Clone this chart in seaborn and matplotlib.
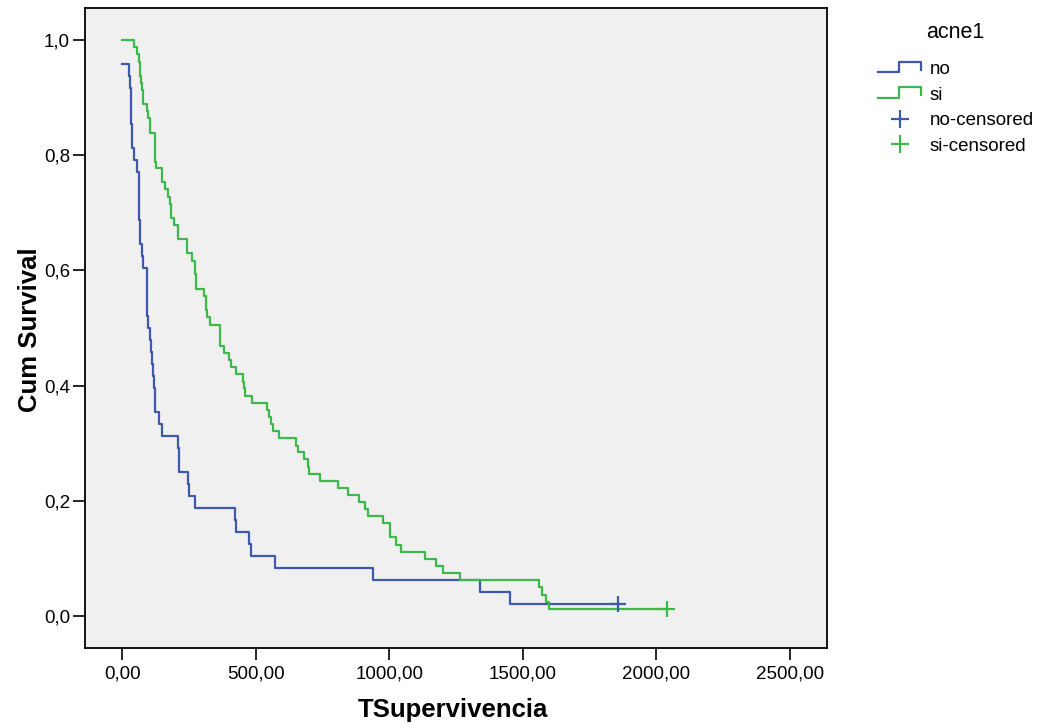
import matplotlib
matplotlib.use("Agg")
import matplotlib.pyplot as plt
from matplotlib.lines import Line2D
from matplotlib.legend_handler import HandlerBase
import seaborn as sns
import pandas as pd

# ---- data (Kaplan-Meier steps) ----
no_time = [0, 25, 27, 31, 32, 36, 45, 53, 61, 64, 66, 74, 76, 91, 97, 102, 107, 111,
           114, 117, 121, 137, 150, 207, 211, 246, 251, 271, 423, 426, 474, 483, 573,
           937, 1339, 1451, 1857]
no_surv = [0.958, 0.938, 0.917, 0.896, 0.854, 0.813, 0.792, 0.771, 0.688, 0.667, 0.646,
           0.625, 0.604, 0.521, 0.500, 0.479, 0.458, 0.438, 0.417, 0.396, 0.354, 0.333,
           0.313, 0.292, 0.250, 0.229, 0.208, 0.188, 0.167, 0.146, 0.125, 0.104, 0.083,
           0.063, 0.042, 0.021, 0.021]

si_time = [0, 45, 55, 61, 64, 70, 74, 76, 92, 96, 105, 121, 124, 150, 160, 172, 177, 182,
           192, 208, 241, 262, 271, 276, 306, 313, 317, 329, 367, 379, 400, 408, 427, 450,
           455, 460, 485, 542, 548, 557, 564, 587, 651, 658, 681, 695, 700, 741, 806, 846,
           886, 910, 920, 977, 1001, 1024, 1044, 1133, 1175, 1200, 1265, 1562, 1571, 1586,
           1598, 2041]
si_surv = [1.000, 0.988, 0.976, 0.962, 0.938, 0.926, 0.913, 0.889, 0.877, 0.864, 0.839,
           0.788, 0.778, 0.753, 0.741, 0.728, 0.715, 0.691, 0.679, 0.654, 0.630, 0.617,
           0.593, 0.568, 0.556, 0.531, 0.519, 0.506, 0.469, 0.457, 0.444, 0.432, 0.420,
           0.407, 0.395, 0.382, 0.370, 0.358, 0.346, 0.333, 0.321, 0.309, 0.296, 0.284,
           0.272, 0.259, 0.247, 0.235, 0.223, 0.210, 0.198, 0.186, 0.173, 0.161, 0.137,
           0.124, 0.112, 0.099, 0.087, 0.075, 0.062, 0.050, 0.037, 0.025, 0.013, 0.013]

censor_group = ["no", "si"]
censor_time = [1857, 2041]
censor_surv = [0.021, 0.013]

group_names = ["no", "si"]
colors = {"no": "#3E58AC", "si": "#3DB84A"}

x_ticks = [0, 500, 1000, 1500, 2000, 2500]
x_tick_labels = ["0,00", "500,00", "1000,00", "1500,00", "2000,00", "2500,00"]
y_ticks = [0.0, 0.2, 0.4, 0.6, 0.8, 1.0]
y_tick_labels = ["0,0", "0,2", "0,4", "0,6", "0,8", "1,0"]

# ---- build tables ----
curves = pd.concat([
    pd.DataFrame({"time": no_time, "surv": no_surv, "acne1": "no"}),
    pd.DataFrame({"time": si_time, "surv": si_surv, "acne1": "si"}),
], ignore_index=True)
cens = pd.DataFrame({"time": censor_time, "surv": censor_surv, "acne1": censor_group})

plt.rcParams["font.family"] = ["Liberation Sans", "DejaVu Sans"]

fig = plt.figure(figsize=(10.41, 7.28), dpi=100)
ax = fig.add_axes([85.3 / 1041, 1 - 647.7 / 728, (827.3 - 85.3) / 1041, (647.7 - 8.3) / 728])
ax.set_facecolor("#F0F0F0")

for g in group_names:
    sub = curves[curves["acne1"] == g]
    sns.lineplot(data=sub, x="time", y="surv", color=colors[g], drawstyle="steps-post",
                 estimator=None, sort=False, lw=1.6, ax=ax, legend=False)
    csub = cens[cens["acne1"] == g]
    sns.scatterplot(data=csub, x="time", y="surv", color=colors[g], marker="+", s=140,
                    linewidth=1.6, ax=ax, legend=False, zorder=4)

ax.set_xlim(-139, 2640)
ax.set_ylim(-0.055, 1.055)
ax.set_xticks(x_ticks)
ax.set_xticklabels(x_tick_labels)
ax.set_yticks(y_ticks)
ax.set_yticklabels(y_tick_labels)
ax.tick_params(axis="both", direction="out", length=8.6, width=1.2, color="black",
               labelsize=13.5, labelcolor="black")
ax.tick_params(axis="x", pad=4)
ax.tick_params(axis="y", pad=2.5)
for sp in ax.spines.values():
    sp.set_color("black")
    sp.set_linewidth(1.3)
ax.grid(False)

ax.set_xlabel("TSupervivencia", fontsize=18.5, fontweight="bold")
ax.set_ylabel("Cum Survival", fontsize=18.5, fontweight="bold")
ax.xaxis.set_label_coords(0.495, -0.078)
ax.yaxis.set_label_coords(-0.059, 0.497)


class StepHandler(HandlerBase):
    def create_artists(self, legend, orig_handle, xdescent, ydescent, width, height,
                       fontsize, trans):
        xs = [0.0, 0.48, 0.48, 1.0, 1.0]
        ys = [0.15, 0.15, 0.95, 0.95, 0.35]
        line = Line2D([x * width - xdescent for x in xs],
                      [y * height - ydescent for y in ys],
                      color=orig_handle.get_color(), lw=1.6)
        line.set_transform(trans)
        return [line]


h_no = Line2D([], [], color=colors["no"])
h_si = Line2D([], [], color=colors["si"])
h_nc = Line2D([], [], color=colors["no"], marker="+", ls="none", markersize=13, mew=1.6)
h_sc = Line2D([], [], color=colors["si"], marker="+", ls="none", markersize=13, mew=1.6)

leg = fig.legend([h_no, h_si, h_nc, h_sc], ["no", "si", "no-censored", "si-censored"],
                 loc="upper left", bbox_to_anchor=(878 / 1041, 1 - 61 / 728),
                 frameon=False, fontsize=13.5, borderpad=0, borderaxespad=0,
                 handlelength=2.3, handletextpad=0.45, labelspacing=0.45,
                 handler_map={h_no: StepHandler(), h_si: StepHandler()})
fig.text(926 / 1041, 1 - 32 / 728, "acne1", fontsize=15.5, va="center", ha="left")

fig.savefig("out.png", dpi=100)
